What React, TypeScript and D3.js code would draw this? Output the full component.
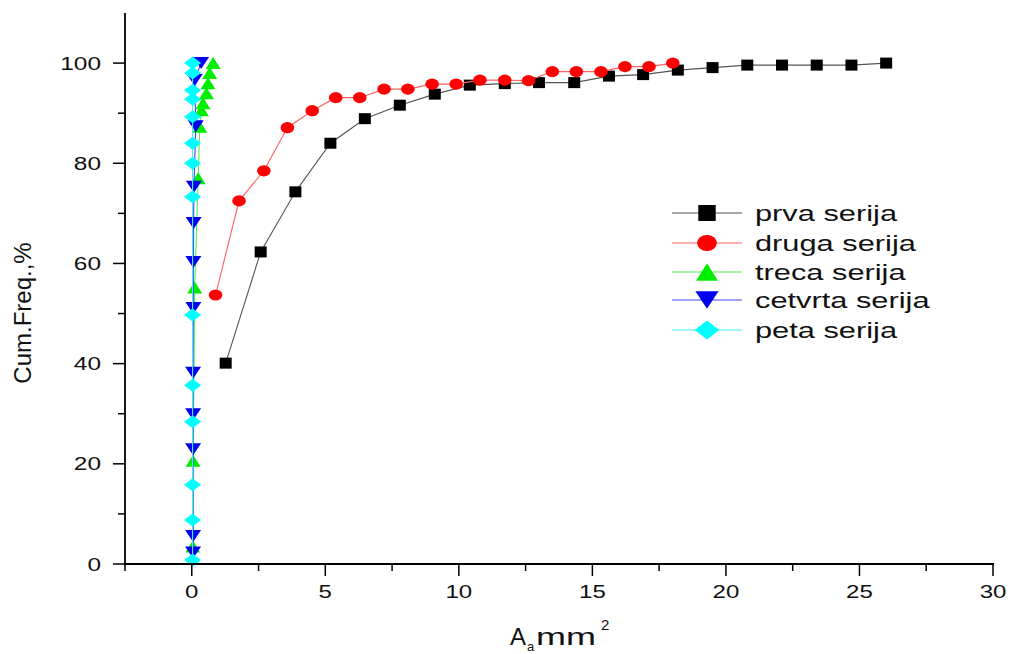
import React from "react";
import * as d3 from "d3";

const prvaX = [1.27, 2.58, 3.88, 5.19, 6.48, 7.79, 9.1, 10.41, 11.72, 13.0, 14.32, 15.62, 16.9, 18.2, 19.5, 20.8, 22.1, 23.4, 24.7, 26.0];
const prvaY = [40.1, 62.3, 74.3, 84.0, 88.9, 91.6, 93.8, 95.6, 95.9, 96.1, 96.1, 97.4, 97.7, 98.6, 99.1, 99.6, 99.6, 99.6, 99.6, 100];
const drugaX = [0.89, 1.77, 2.7, 3.58, 4.51, 5.39, 6.29, 7.2, 8.09, 9.0, 9.9, 10.79, 11.72, 12.61, 13.5, 14.4, 15.32, 16.22, 17.12, 18.01];
const drugaY = [53.7, 72.5, 78.5, 87.1, 90.5, 93.1, 93.1, 94.8, 94.8, 95.8, 95.8, 96.6, 96.6, 96.5, 98.3, 98.3, 98.3, 99.3, 99.3, 100];
const trecaX = [0.04, 0.05, 0.11, 0.24, 0.3, 0.36, 0.42, 0.55, 0.61, 0.67, 0.8];
const trecaY = [3.5, 20.6, 55.2, 77, 87.3, 90.6, 92, 94, 96, 98, 100];
const cetvrtaX = [0.05, 0.05, 0.05, 0.05, 0.05, 0.06, 0.06, 0.07, 0.08, 0.15, 0.11, 0.35];
const cetvrtaY = [2.3, 5.6, 22.9, 29.9, 38.2, 51.1, 60.3, 68.1, 75.3, 87.4, 96.6, 100];
const petaX = [0.03, 0.03, 0.03, 0.03, 0.03, 0.03, 0.03, 0.03, 0.03, 0.03, 0.03, 0.03, 0.03, 0.03];
const petaY = [0.8, 8.8, 15.8, 28.4, 35.7, 49.7, 73.3, 80.0, 84.0, 89.3, 92.8, 94.6, 98.0, 100];

const seriesNames = ["prva serija", "druga serija", "treca serija", "cetvrta serija", "peta serija"];
const xTicks = [0, 5, 10, 15, 20, 25, 30];
const xMinor = [-2.5, 2.5, 7.5, 12.5, 17.5, 22.5, 27.5];
const yTicks = [0, 20, 40, 60, 80, 100];
const yMinor = [10, 30, 50, 70, 90];

type Shape = "square" | "circle" | "up" | "down" | "diamond";

const series = [
  { name: seriesNames[0], xs: prvaX, ys: prvaY, fill: "#000000", line: "#555555", shape: "square" as Shape },
  { name: seriesNames[1], xs: drugaX, ys: drugaY, fill: "#ff0000", line: "#ff6060", shape: "circle" as Shape },
  { name: seriesNames[2], xs: trecaX, ys: trecaY, fill: "#00ee00", line: "#55ee55", shape: "up" as Shape },
  { name: seriesNames[3], xs: cetvrtaX, ys: cetvrtaY, fill: "#0000ee", line: "#4444ff", shape: "down" as Shape },
  { name: seriesNames[4], xs: petaX, ys: petaY, fill: "#00ffff", line: "#44eeee", shape: "diamond" as Shape },
];

function marker(shape: Shape, cx: number, cy: number, fill: string, k: number, key: string) {
  if (shape === "square") {
    const w = 12 * k, h = 11 * k;
    return <rect key={key} x={cx - w / 2} y={cy - h / 2} width={w} height={h} fill={fill} />;
  }
  if (shape === "circle") {
    return <ellipse key={key} cx={cx} cy={cy} rx={6.8 * k} ry={5.6 * k} fill={fill} />;
  }
  if (shape === "up") {
    const w = 15 * k, h = 12 * k;
    return <path key={key} d={`M${cx},${cy - h / 2}L${cx + w / 2},${cy + h / 2}L${cx - w / 2},${cy + h / 2}Z`} fill={fill} />;
  }
  if (shape === "down") {
    const w = 16 * k, h = 12 * k;
    return <path key={key} d={`M${cx - w / 2},${cy - h / 2}L${cx + w / 2},${cy - h / 2}L${cx},${cy + h / 2}Z`} fill={fill} />;
  }
  const w = 17 * k, h = 13 * k;
  return <path key={key} d={`M${cx},${cy - h / 2}L${cx + w / 2},${cy}L${cx},${cy + h / 2}L${cx - w / 2},${cy}Z`} fill={fill} />;
}

export default function App() {
  const x = d3.scaleLinear().domain([-2.5, 30]).range([125, 993]);
  const y = d3.scaleLinear().domain([0, 110]).range([564, 13]);
  const font = "'Liberation Sans', Arial, sans-serif";

  const legendY = [213, 243, 272, 300, 330];

  return (
    <svg width={1013} height={654} style={{ position: "absolute", left: 0, top: 0, background: "#fff" }} fontFamily={font}>
      <rect x={0} y={0} width={1013} height={654} fill="#fff" />
      {series.map((s, si) => {
        const pts: [number, number][] = s.xs.map((v, i) => [x(v), y(s.ys[i])]);
        const line = d3.line()(pts) || "";
        return (
          <g key={si}>
            <path d={line} fill="none" stroke={s.line} strokeWidth={1.1} />
            {pts.map((p, i) => marker(s.shape, p[0], p[1], s.fill, 1, `${si}-${i}`))}
          </g>
        );
      })}
      <line x1={125} y1={13} x2={125} y2={565} stroke="#000" strokeWidth={1.8} />
      <line x1={124} y1={564} x2={994} y2={564} stroke="#000" strokeWidth={1.8} />
      {yTicks.map((t) => (
        <g key={"yt" + t}>
          <line x1={113} x2={125} y1={y(t)} y2={y(t)} stroke="#000" strokeWidth={1.5} />
          <text transform={`translate(101,${y(t) + 6.6}) scale(1.32,1)`} fontSize={18.5} textAnchor="end" fill="#111">{t}</text>
        </g>
      ))}
      {yMinor.map((t) => (
        <line key={"ym" + t} x1={118} x2={125} y1={y(t)} y2={y(t)} stroke="#000" strokeWidth={1.5} />
      ))}
      {xTicks.map((t) => (
        <g key={"xt" + t}>
          <line x1={x(t)} x2={x(t)} y1={564} y2={576} stroke="#000" strokeWidth={1.5} />
          <text transform={`translate(${x(t)},598) scale(1.3,1)`} fontSize={18.5} textAnchor="middle" fill="#111">{t}</text>
        </g>
      ))}
      {xMinor.map((t) => (
        <line key={"xm" + t} x1={x(t)} x2={x(t)} y1={564} y2={571} stroke="#000" strokeWidth={1.5} />
      ))}
      <text transform="translate(31,313) rotate(-90)" fontSize={24} textAnchor="middle" fill="#111">Cum.Freq.,%</text>
      <text x={510} y={645} fontSize={24} fill="#111">A</text>
      <text x={527} y={651} fontSize={13} fill="#111">a</text>
      <text transform="translate(536,645) scale(1.5,1)" fontSize={24} fill="#111">mm</text>
      <text x={601} y={630} fontSize={15} fill="#111">2</text>
      {series.map((s, i) => (
        <g key={"lg" + i}>
          <line x1={672} x2={742} y1={legendY[i]} y2={legendY[i]} stroke={s.line} strokeWidth={1.1} />
          {marker(s.shape, 707, legendY[i], s.fill, 1.45, "lm" + i)}
          <text transform={`translate(755,${legendY[i] + 8}) scale(1.4,1)`} fontSize={22} fill="#111">{s.name}</text>
        </g>
      ))}
    </svg>
  );
}
